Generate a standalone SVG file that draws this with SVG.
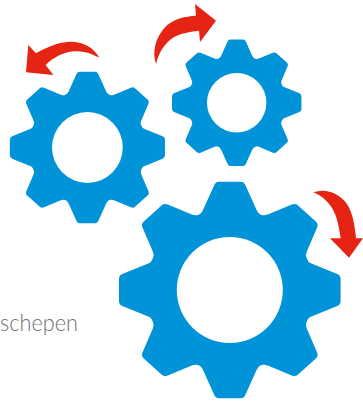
<svg xmlns="http://www.w3.org/2000/svg" xmlns:xlink="http://www.w3.org/1999/xlink" width="363" height="403" viewBox="0 0 363 403">
<style>
.gear{fill:#0093d7;fill-rule:evenodd}
.hole{fill:#fff}
.arrow{fill:#e62413}
.label{font-family:"Lato","Open Sans",sans-serif;font-weight:300;font-size:22.5px;fill:#6f6f6f}
</style>
<defs>
<path id="gearShape" class="gear" d="M-11,-108.3H11Q14,-108.3 15.4,-105.3L27,-79.5Q29,-75.5 33,-74.8Q35,-74.5 38,-75.5L62,-85.5Q65.5,-87 68,-84.8L86.3,-68.3Q88.6,-66 87.4,-62.8L77,-38.5Q75.5,-35 76.5,-33L78,-29.5Q79,-27.5 81,-26.7L107.5,-16Q110.8,-14.6 110.8,-11V11Q110.8,14.6 107.5,16L81,26.7Q79,27.5 78,29.5L76.5,33Q75.5,35 77,38.5L87.4,62.8Q88.6,66 86.3,68.3L68,84.8Q65.5,87 62,85.5L38,75.5Q35,74.5 33,74.8Q29,75.5 27,79.5L15.4,105.3Q14,108.3 11,108.3H-11Q-14,108.3 -15.4,105.3L-27,79.5Q-29,75.5 -33,74.8Q-35,74.5 -38,75.5L-62,85.5Q-65.5,87 -68,84.8L-86.3,68.3Q-88.6,66 -87.4,62.8L-77,38.5Q-75.5,35 -76.5,33L-78,29.5Q-79,27.5 -81,26.7L-107.5,16Q-110.8,14.6 -110.8,11V-11Q-110.8,-14.6 -107.5,-16L-81,-26.7Q-79,-27.5 -78,-29.5L-76.5,-33Q-75.5,-35 -77,-38.5L-87.4,-62.8Q-88.6,-66 -86.3,-68.3L-68,-84.8Q-65.5,-87 -62,-85.5L-38,-75.5Q-35,-74.5 -33,-74.8Q-29,-75.5 -27,-79.5L-15.4,-105.3Q-14,-108.3 -11,-108.3Z"/>
</defs>
<g id="label"><text class="label" x="0" y="331" textLength="78" lengthAdjust="spacingAndGlyphs">schepen</text></g>
<g id="gear-left"><use xlink:href="#gearShape" href="#gearShape" transform="translate(87.4,147.5) scale(0.7)"/><circle class="hole" cx="87.4" cy="147.5" r="35.4"/></g>
<g id="gear-right"><use xlink:href="#gearShape" href="#gearShape" transform="translate(236.7,102.7) scale(0.584)"/><circle class="hole" cx="236.7" cy="102.7" r="29.7"/></g>
<g id="gear-big"><use xlink:href="#gearShape" href="#gearShape" transform="translate(229.8,290)"/><circle class="hole" cx="229.8" cy="290" r="53"/></g>
<g id="connectors">
<path class="arrow" d="M26,72.3L28.3,45L36,53.3C50,45 62,41.5 72,41.7C84,42 94,48 99.3,57.7C90,52.5 82,50.5 74,51.3C63,52.5 54,57 45.7,65L53.3,75Z"/>
<path class="arrow" d="M156,64C152,52 155,37 166.7,25.5C175,18.5 185,16.5 196,15.7L195,4L216,20.7L200,42L199,30.7C188,32 180,33.5 173.3,37.5C165,43 159,52 156,64Z"/>
<path class="arrow" d="M313.3,192.3C326,188 339,193 347,204C353,214 355,226 356,238.3H363L349,257.7L330,238.3H340.7C339,227 337,216 332,208C327,200 320,195 313.3,192.3Z"/>
</g>
</svg>
